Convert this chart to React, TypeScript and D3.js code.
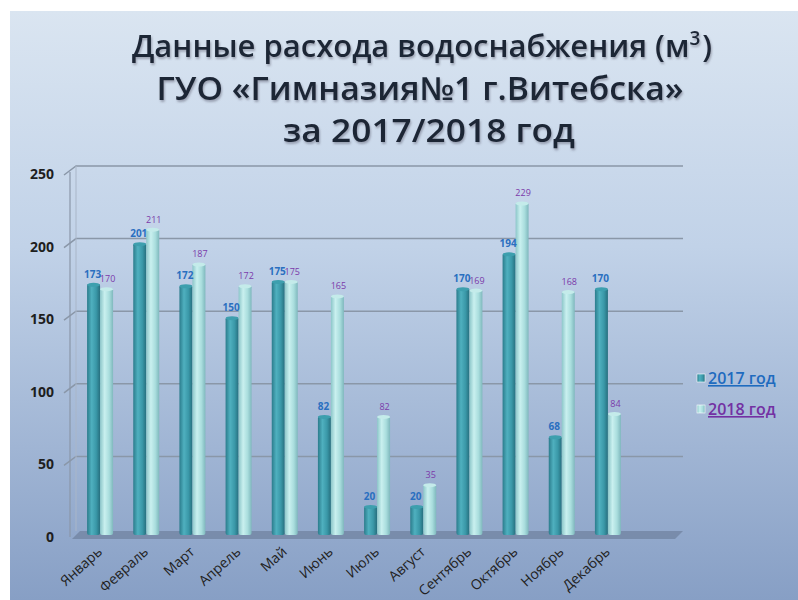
import React from "react"
import { scaleBand, scaleLinear } from "d3"

const months = [
  "Январь", "Февраль", "Март", "Апрель", "Май", "Июнь",
  "Июль", "Август", "Сентябрь", "Октябрь", "Ноябрь", "Декабрь",
]
const values2017 = [173, 201, 172, 150, 175, 82, 20, 20, 170, 194, 68, 170]
const values2018 = [170, 211, 187, 172, 175, 165, 82, 35, 169, 229, 168, 84]
const yTicks = [0, 50, 100, 150, 200, 250]
const seriesNames = ["2017 год", "2018 год"]
const titleLines = ["ГУО «Гимназия№1 г.Витебска»", "за 2017/2018 год"]

const App = () => {
  const width = 798
  const height = 600

  // scales
  const y = scaleLinear().domain([0, 250]).range([535, 172])
  const x = scaleBand<string>().domain(months).range([77, 631])
  const barW = 13
  const depth = 6

  const font = "'Open Sans', 'DejaVu Sans', sans-serif"

  return (
    <svg
      width={width}
      height={height}
      style={{ position: "absolute", left: 0, top: 0 }}
    >
      <defs>
        <linearGradient id="bg" x1="0" y1="0" x2="0" y2="1">
          <stop offset="0" stopColor="#dae5f1" />
          <stop offset="0.4" stopColor="#c1d2e8" />
          <stop offset="1" stopColor="#879fc5" />
        </linearGradient>
        <linearGradient id="dark" x1="0" y1="0" x2="1" y2="0">
          <stop offset="0" stopColor="#2b7c8c" />
          <stop offset="0.35" stopColor="#4fb0bf" />
          <stop offset="0.7" stopColor="#3a98a8" />
          <stop offset="1" stopColor="#276f7e" />
        </linearGradient>
        <linearGradient id="light" x1="0" y1="0" x2="1" y2="0">
          <stop offset="0" stopColor="#8cc6c9" />
          <stop offset="0.35" stopColor="#c9f0ef" />
          <stop offset="0.7" stopColor="#a9dddd" />
          <stop offset="1" stopColor="#7fb8bd" />
        </linearGradient>
        <filter id="shadow" x="-5%" y="-20%" width="110%" height="140%">
          <feDropShadow dx="1" dy="2" stdDeviation="1.2" floodColor="#556" floodOpacity="0.45" />
        </filter>
      </defs>

      <rect width={width} height={height} fill="#fff" />
      <rect x={10} y={11} width={width - 10} height={height - 11} fill="url(#bg)" />

      {/* title */}
      <g fontFamily={font} fontWeight={600} fill="#1c2636" textAnchor="middle" filter="url(#shadow)">
        <text x={422} y={57} fontSize={31}>
          Данные расхода водоснабжения (м
          <tspan dy={-12} fontSize={19}>3</tspan>
          <tspan dy={12} dx={2}>)</tspan>
        </text>
        <text x={420} y={100} fontSize={32} textLength={527} lengthAdjust="spacingAndGlyphs">{titleLines[0]}</text>
        <text x={429} y={142} fontSize={32} textLength={292} lengthAdjust="spacingAndGlyphs">{titleLines[1]}</text>
      </g>

      {/* floor */}
      <polygon
        points={`72,${y(0) + 4} 80,${y(0) - 4} 683,${y(0) - 4} 675,${y(0) + 4}`}
        fill="#7083a0"
        opacity={0.75}
      />

      {/* grid lines */}
      {yTicks.filter((t) => t > 0).map((t) => (
        <path
          key={t}
          d={`M64,${y(t) + 3} L76,${y(t) - depth} L683,${y(t) - depth}`}
          fill="none"
          stroke="#8a97a8"
          strokeWidth={1.5}
        />
      ))}
      <line x1={70} x2={70} y1={y(250)} y2={y(0) + 2} stroke="#8a97a8" strokeWidth={1.2} />
      <line x1={76} x2={76} y1={y(250) - depth} y2={y(0) - 4} stroke="#a9b6c8" strokeWidth={1} />

      {/* y tick labels */}
      {yTicks.map((t) => (
        <text
          key={t}
          x={54}
          y={y(t) + 7}
          textAnchor="end"
          fontFamily={font}
          fontWeight={700}
          fontSize={14}
          fill="#1e1e1e"
        >
          {t}
        </text>
      ))}

      {/* bars */}
      {months.map((m, i) => {
        const cx = (x(m) ?? 0) + x.bandwidth() / 2
        const x17 = cx - barW
        const x18 = cx
        return (
          <g key={m}>
            <rect x={x17} y={y(values2017[i])} width={barW} height={y(0) - y(values2017[i])} fill="url(#dark)" rx={2} />
            <ellipse cx={x17 + barW / 2} cy={y(values2017[i]) + 1} rx={barW / 2} ry={2} fill="#3d9fae" />
            <rect x={x18} y={y(values2018[i])} width={barW} height={y(0) - y(values2018[i])} fill="url(#light)" rx={2} />
            <ellipse cx={x18 + barW / 2} cy={y(values2018[i]) + 1} rx={barW / 2} ry={2} fill="#c4ebea" />
          </g>
        )
      })}

      {/* value labels */}
      {months.map((m, i) => {
        const cx = (x(m) ?? 0) + x.bandwidth() / 2
        return (
          <g key={m} fontFamily={font} textAnchor="middle">
            <text x={cx - barW / 2 - 1} y={y(values2017[i]) - 6} fontSize={10} fontWeight={700} fill="#2a6fc0">
              {values2017[i]}
            </text>
            <text x={cx + barW / 2 + 1} y={y(values2018[i]) - 6} fontSize={9} fill="#7b3aaa">
              {values2018[i]}
            </text>
          </g>
        )
      })}

      {/* x labels */}
      {months.map((m) => {
        const cx = (x(m) ?? 0) + x.bandwidth() / 2
        return (
          <text
            key={m}
            transform={`translate(${cx + 3},${y(0) + 18}) rotate(-42)`}
            textAnchor="end"
            fontFamily={font}
            fontSize={14}
            fill="#222"
          >
            {m}
          </text>
        )
      })}

      {/* legend */}
      {seriesNames.map((s, i) => (
        <g key={s} transform={`translate(697,${378 + i * 31})`}>
          <rect x={0} y={-4} width={8} height={8} fill={i === 0 ? "url(#dark)" : "url(#light)"} stroke="#ffffff" strokeWidth={0.6} />
          <text
            x={11}
            y={6}
            fontFamily={font}
            fontSize={16}
            fontWeight={600}
            fill={i === 0 ? "#1e6bbf" : "#7331a3"}
            textDecoration="underline"
          >
            {s}
          </text>
        </g>
      ))}
    </svg>
  )
}

export default App
